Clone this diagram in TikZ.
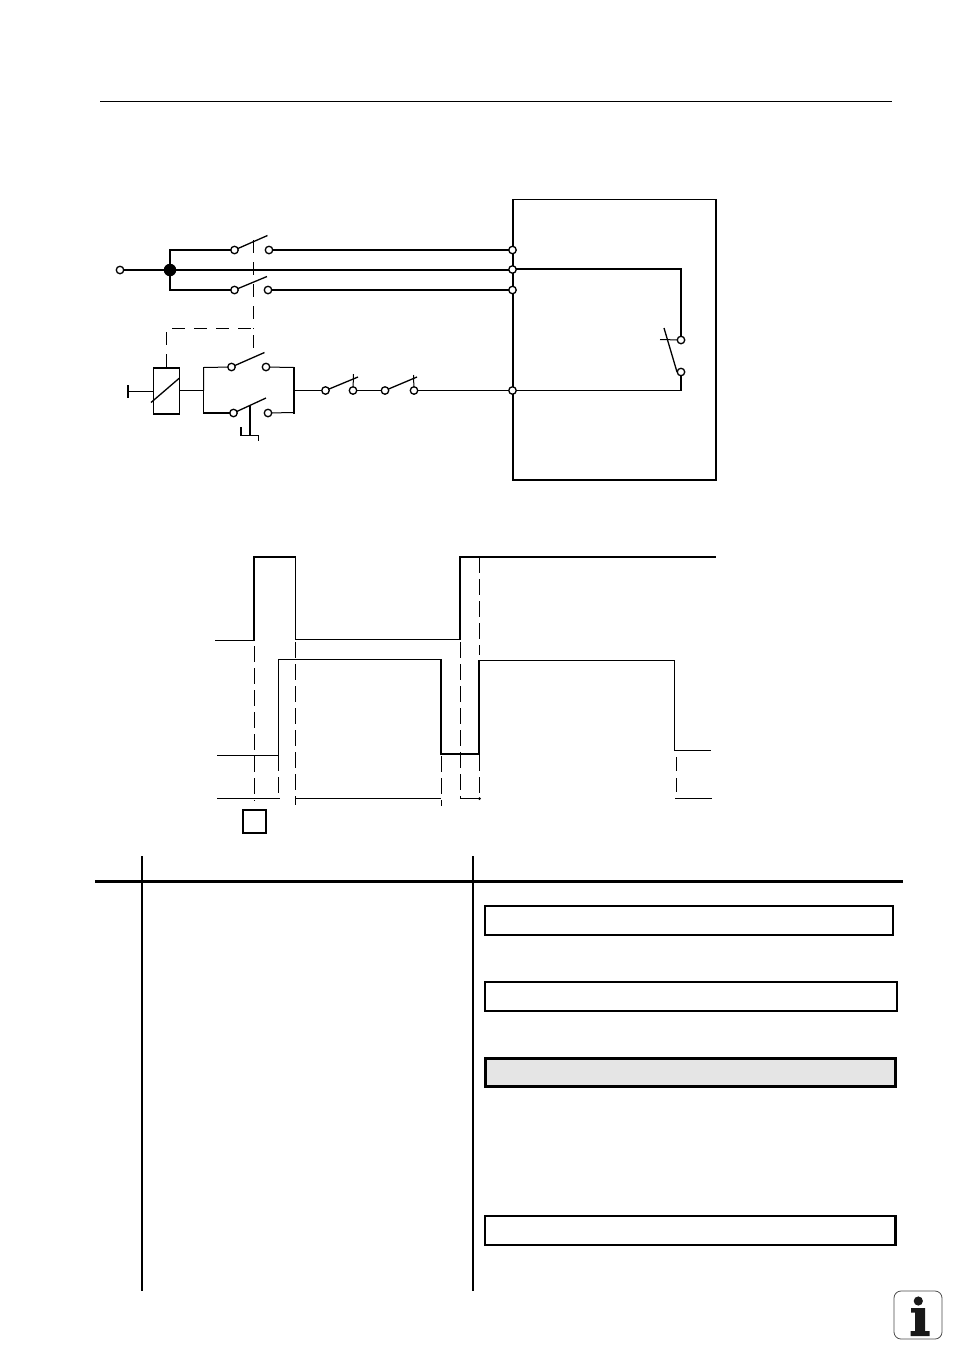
\documentclass[tikz,border=0pt]{standalone}
\begin{document}
\begin{tikzpicture}[x=1pt,y=-1pt,
  term/.style={circle,draw=black,fill=white,line width=1.3pt,inner sep=0pt,minimum size=7.5pt,outer sep=0pt},
  thinw/.style={line width=1pt},
  thickw/.style={line width=2pt},
  blade/.style={line width=1.3pt},
  dashsch/.style={line width=1pt,dash pattern=on 13pt off 9pt},
  dashtim/.style={line width=1pt,dash pattern=on 16pt off 6pt},
  rowbox/.style={draw=black,line width=2.4pt,fill=white},
  graybox/.style={draw=black,line width=3pt,fill=black!10}]
\useasboundingbox (0,0) rectangle (954,1350);
\fill[white] (0,0) rectangle (954,1350);
% top rule
\draw[line width=0.8pt] (100,101.5) -- (891.5,101.5);
% drive box
\draw[line width=1.8pt] (513,199.5) rectangle (716,480);
% coordinates
\coordinate (j1) at (170,250); \coordinate (j3) at (170,290);
\coordinate (x2r) at (512.5,269);
\coordinate (cR) at (681,269);
\coordinate (cQ) at (681,390.5);
% terminals
\node[term] (in) at (120,270) {};
\node[circle,fill=black,inner sep=0pt,minimum size=12.5pt] (dot) at (170,270) {};
\node[term] (s1a) at (234.5,250) {}; \node[term] (s1b) at (269,250) {};
\node[term] (s2a) at (234.5,290) {}; \node[term] (s2b) at (268,290) {};
\node[term] (x1) at (512.5,250) {};
\node[term] (x2) at (512.5,269.5) {};
\node[term] (x3) at (512.5,290) {};
\node[term] (x4) at (512.5,390.5) {};
\node[term] (r1) at (681,340) {}; \node[term] (r2) at (681,372) {};
\node[term] (p1a) at (231.5,367) {}; \node[term] (p1b) at (266,367) {};
\node[term] (p2a) at (233.5,413) {}; \node[term] (p2b) at (268,413) {};
\node[term] (e1a) at (325.5,390.5) {}; \node[term] (e1b) at (353,390.5) {};
\node[term] (e2a) at (385,390.5) {}; \node[term] (e2b) at (414,390.5) {};
% coil
\node[draw=black,line width=1.7pt,fill=white,inner sep=0pt,minimum width=26pt,minimum height=46.5pt] (coil) at (166.5,391) {};
\draw[blade] (151,402.5) -- (179.5,378);
% power wiring
\draw[thickw] (dot) -- (j1) -- (s1a);
\draw[thickw] (dot) -- (j3) -- (s2a);
\draw[thickw] (s1b) -- (x1);
\draw[thickw] (s2b) -- (x3);
\draw[thickw] (in) -- (dot);
\draw[thickw] (dot) -- (x2.west |- dot);
\draw[thickw] (x2.east |- x2r) -- (cR) -- (r1);
\draw[thickw] (r2) -- (cQ);
\draw[thinw] (cQ) -- (x4);
% main switch blades
\draw[blade] (s1a) -- (267.5,235.5);
\draw[blade] (s2a) -- (267,276.5);
% mechanical link
\draw[dashsch] (253.5,240) -- (253.5,328.5);
\draw[dashsch] (coil.north) -- (166.5,328.5) -- (253.5,328.5) -- (253.5,354);
% relay contact
\draw[blade] (677,372) -- (664,328);
\draw[thinw] (660,339.5) -- (r1);
% coil side
\coordinate (b) at (128,391.5);
\draw[thinw] (b) -- (coil.west |- b);
\draw[thickw] (128,385) -- (128,398);
% parallel contacts
\coordinate (lm) at (203.5,390.5); \coordinate (rm) at (294,390.5);
\draw[thinw] (coil.east |- lm) -- (lm);
\draw[thinw] (lm) -- (203.5,367.5) -- (p1a);
\draw[thinw] (lm) -- (203.5,413);
\draw[thickw] (203,413) -- (p2a);
\draw[thinw] (p1b) -- (294,367.5);
\draw[thinw] (p2b) -- (294,412.5);
\draw[thickw] (294,367) -- (294,413.5);
\draw[blade] (p1a) -- (264.5,352.5);
\draw[blade] (p2a) -- (266,398);
% push button
\draw[thickw] (250,405) -- (250,436);
\draw[thinw] (241,435.5) -- (258.5,435.5) -- (258.5,441);
\draw[thickw] (241,427) -- (241,436);
% series contacts
\draw[thinw] (rm) -- (e1a);
\draw[blade] (e1a) -- (358,377);
\draw[thinw] (353.5,374) -- (e1b);
\draw[thinw] (e1b) -- (e2a);
\draw[blade] (e2a) -- (417,377);
\draw[thinw] (413.5,375) -- (e2b);
\draw[thinw] (e2b) -- (x4);
% timing: signal 1
\draw[thinw] (215,640.5) -- (254,640.5);
\draw[thickw] (254,641) -- (254,557) -- (295.5,557);
\draw[thinw] (295.5,557) -- (295.5,639.5) -- (460,639.5);
\draw[thickw] (460,640) -- (460,557) -- (716,557);
% timing: signal 2
\draw[thinw] (217,755.5) -- (278.5,755.5) -- (278.5,659.5) -- (441,659.5);
\draw[thickw] (441,659) -- (441,754) -- (479,754) -- (479,660);
\draw[thinw] (479,660.5) -- (674.5,660.5) -- (674.5,750.5) -- (711,750.5);
% timing: baseline
\draw[thinw] (217,798.5) -- (280,798.5);
\draw[thinw] (296,798.5) -- (441,798.5);
\draw[thinw] (460.5,798.5) -- (479.5,798.5);
\fill (479.5,798.5) circle (1.5pt);
\draw[thinw] (675,798.5) -- (712,798.5);
% timing: dashed
\draw[dashtim] (254.5,646) -- (254.5,801);
\draw[dashtim] (278.5,755) -- (278.5,794);
\draw[dashtim] (295.5,642) -- (295.5,805);
\draw[dashtim] (441.5,756) -- (441.5,806);
\draw[dashtim] (460.5,642) -- (460.5,798.5);
\draw[dashtim] (479.5,557) -- (479.5,655);
\draw[dashtim] (479.5,755) -- (479.5,798);
\draw[dashtim,dash pattern=on 14pt off 7pt] (676.5,757) -- (676.5,798);
% small square
\node[draw=black,line width=2pt,fill=white,inner sep=0pt,minimum width=23pt,minimum height=23pt] (sq) at (254.5,821.5) {};
% table
\draw[line width=3pt] (95,881) -- (903,881);
\draw[thickw] (142,856) -- (142,1291);
\draw[thickw] (473,856) -- (473,1291);
\draw[rowbox] (485,906) rectangle (893,935);
\draw[rowbox] (485,982) rectangle (897,1011);
\draw[graybox] (485,1058.5) rectangle (895.5,1086.5);
\draw[rowbox] (485,1216) rectangle (895.5,1245);
% info icon
\draw[draw=black!70,line width=0.8pt,rounded corners=7pt] (894,1291) rectangle (942,1339);
\fill[black!90] (918.3,1301) circle (4.6pt);
\fill[black!90] (911,1308) -- (925,1308) -- (925,1331) -- (929.5,1331) -- (929.5,1336) -- (910.5,1336) -- (910.5,1331) -- (915,1331) -- (915,1312.5) -- (911,1312.5) -- cycle;
\end{tikzpicture}
\end{document}
